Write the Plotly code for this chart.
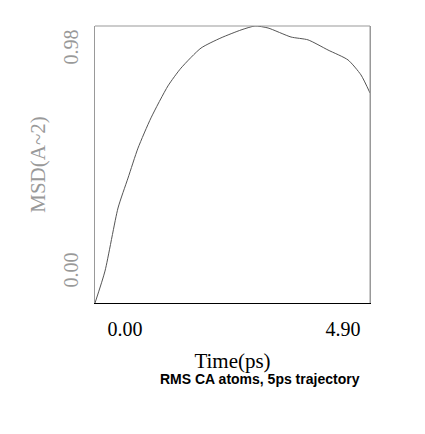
import plotly.graph_objects as go

time_ps = [0.0, 0.178, 0.41, 0.588, 0.766, 0.998, 1.30, 1.532, 1.889, 2.245, 2.602, 2.851, 3.083, 3.493, 3.795, 4.152, 4.508, 4.739, 4.9]
msd = [0.0, 0.113, 0.336, 0.442, 0.548, 0.655, 0.768, 0.831, 0.902, 0.938, 0.966, 0.98, 0.973, 0.941, 0.931, 0.895, 0.860, 0.807, 0.743]
x_tick_vals = [0.535, 4.42]
x_tick_text = ["0.00", "4.90"]
y_tick_vals = [0.106, 0.895]
y_tick_text = ["0.00", "0.98"]

serif = "Liberation Serif"
fig = go.Figure(go.Scatter(x=time_ps, y=msd, mode="lines", line=dict(color="#555555", width=1, shape="spline", smoothing=0.6)))
fig.update_layout(
    width=425, height=434, margin=dict(l=87, r=63, t=18, b=139),
    plot_bgcolor="white", paper_bgcolor="white", showlegend=False,
    xaxis=dict(range=[0, 4.9], showgrid=False, zeroline=False, tickvals=x_tick_vals, ticktext=x_tick_text,
               ticks="", tickfont=dict(family=serif, size=20, color="black"), automargin=False,
               showline=True, linecolor="black", linewidth=1, mirror=False, ticklabelstandoff=8,
               title=dict(text="Time(ps)", font=dict(family=serif, size=21, color="black"), standoff=14)),
    yaxis=dict(range=[0, 0.98], showgrid=False, zeroline=False, tickvals=y_tick_vals, ticktext=y_tick_text,
               ticks="", tickangle=-90, tickfont=dict(family=serif, size=20, color="#999999"), automargin=False,
               showline=True, linecolor="#999999", linewidth=1, mirror=True, ticklabelstandoff=8,
               title=dict(text="MSD(A~2)", font=dict(family=serif, size=21, color="#999999"), standoff=8)),
    annotations=[dict(text="<b>RMS CA atoms, 5ps trajectory</b>", xref="paper", yref="paper", x=0.6, y=-0.31,
                      showarrow=False, font=dict(family="Liberation Sans", size=14, color="black"))],
)
fig.add_shape(type="line", xref="paper", yref="paper", x0=0, x1=1, y0=1, y1=1, line=dict(color="#999999", width=1))
fig.add_shape(type="line", xref="paper", yref="paper", x0=1, x1=1, y0=0, y1=1, line=dict(color="#999999", width=1))
fig.write_html("out.html")
